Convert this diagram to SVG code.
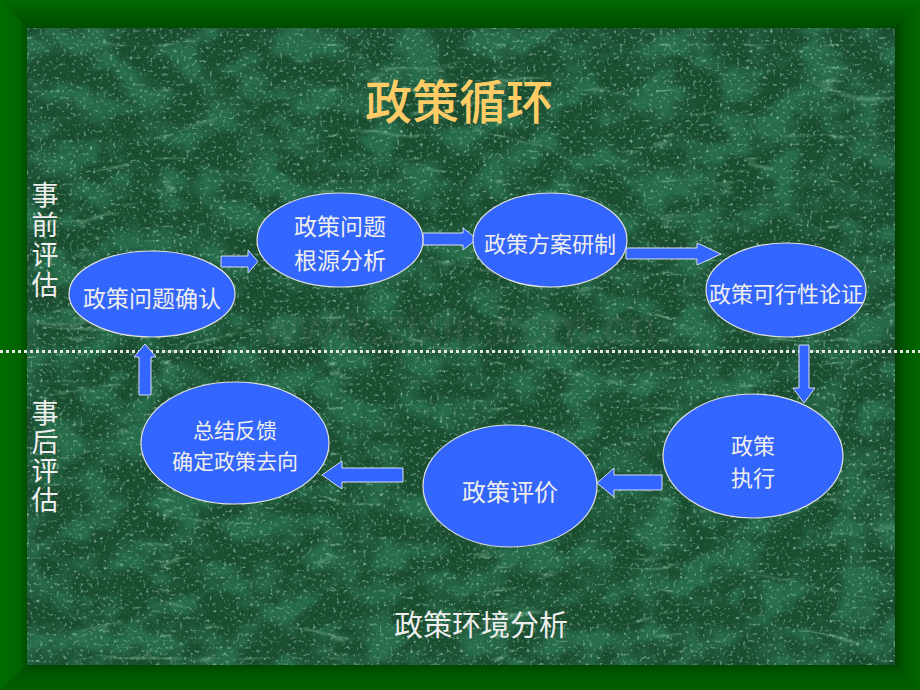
<svg xmlns="http://www.w3.org/2000/svg" width="920" height="690" viewBox="0 0 920 690">
<defs>
<style>
.node ellipse{fill:#3366FF;stroke:#e0e0e0;stroke-width:1.2}
.node text{fill:#eeeeee;font-family:"Noto Sans CJK SC","Noto Sans",sans-serif;text-anchor:middle;dominant-baseline:central}
.conn polygon{fill:#3366FF;stroke:#d8dcf0;stroke-width:1}
.side{fill:#eeeeee;font-family:"Noto Sans CJK SC",sans-serif;font-size:27px;writing-mode:vertical-rl;text-anchor:middle}
</style>
<linearGradient id="gTop" x1="0" y1="0" x2="0" y2="1"><stop offset="0" stop-color="#006a00"/><stop offset="1" stop-color="#004c00"/></linearGradient>
<linearGradient id="gLeft" x1="0" y1="0" x2="1" y2="0"><stop offset="0" stop-color="#006c00"/><stop offset="0.7" stop-color="#006400"/><stop offset="1" stop-color="#004e00"/></linearGradient>
<linearGradient id="gRight" x1="0" y1="0" x2="1" y2="0"><stop offset="0" stop-color="#003f00"/><stop offset="0.4" stop-color="#005a00"/><stop offset="1" stop-color="#006600"/></linearGradient>
<linearGradient id="gBot" x1="0" y1="0" x2="0" y2="1"><stop offset="0" stop-color="#004800"/><stop offset="0.4" stop-color="#005800"/><stop offset="1" stop-color="#005e00"/></linearGradient>
<filter id="veins" x="0" y="0" width="100%" height="100%">
<feTurbulence type="turbulence" baseFrequency="0.006 0.022" numOctaves="4" seed="11"/>
<feColorMatrix type="matrix" values="0 0 0 0 0.33  0 0 0 0 0.66  0 0 0 0 0.46  -4 0 0 0 0.45"/>
</filter>
<filter id="blotch" x="0" y="0" width="100%" height="100%">
<feTurbulence type="fractalNoise" baseFrequency="0.025 0.035" numOctaves="3" seed="2"/>
<feColorMatrix type="matrix" values="0 0 0 0 0.02  0 0 0 0 0.15  0 0 0 0 0.07  3.5 0 0 0 -1.4"/>
</filter>
<filter id="speck" x="0" y="0" width="100%" height="100%">
<feTurbulence type="fractalNoise" baseFrequency="0.3" numOctaves="2" seed="5"/>
<feColorMatrix type="matrix" values="0 0 0 0 0.28  0 0 0 0 0.52  0 0 0 0 0.38  3 0 0 0 -1.75"/>
</filter>
</defs>

<g id="frame">
<rect x="0" y="0" width="920" height="690" fill="#006400"/>
<polygon points="0,0 920,0 895,28 27,28" fill="url(#gTop)"/>
<polygon points="0,0 27,28 27,665 0,690" fill="url(#gLeft)"/>
<polygon points="920,0 920,690 895,665 895,28" fill="url(#gRight)"/>
<polygon points="0,690 27,665 895,665 920,690" fill="url(#gBot)"/>
</g>

<g id="background">
<rect x="27" y="28" width="868" height="637" fill="#1b4d30"/>
<rect x="27" y="28" width="868" height="637" filter="url(#blotch)"/>
<rect x="27" y="28" width="868" height="637" filter="url(#speck)"/>
<rect x="27" y="28" width="868" height="637" filter="url(#veins)"/>
</g>

<text x="459" y="327" font-family="Liberation Sans,sans-serif" font-size="50" text-anchor="middle" dominant-baseline="central" fill="#8a8a8a" fill-opacity="0.12">www.zixin.com.cn</text>

<line x1="0" y1="351.5" x2="920" y2="351.5" stroke="#e6e6e6" stroke-width="3" stroke-dasharray="3 3"/>

<text x="459" y="98" font-family="Noto Sans CJK SC,sans-serif" font-size="47" font-weight="500" fill="#FFCC66" text-anchor="middle" dominant-baseline="central">政策循环</text>

<g id="side-labels">
<text class="side" x="45" y="241" letter-spacing="3">事前评估</text>
<text class="side" x="45" y="457" letter-spacing="2">事后评估</text>
</g>

<g id="connectors" class="conn">
<polygon points="221,256 248,256 248,250 258,261.5 248,273 248,267 221,267"/>
<polygon points="423,233 463,233 463,228 477,239 463,250 463,245 423,245"/>
<polygon points="626,248 697,248 697,243 721,254 697,265 697,259 626,259"/>
<polygon points="799,345 809,345 809,388 815,388 804,403 793,388 799,388"/>
<polygon points="662,475 614,475 614,468 597,483 614,497 614,490 662,490"/>
<polygon points="403,468 342,468 342,461 322,475 342,489 342,482 403,482"/>
<polygon points="139,395 151,395 151,357 156,357 145,344 134,357 139,357"/>
</g>

<g id="node-confirm" class="node">
<ellipse cx="152" cy="294" rx="83" ry="43"/>
<text x="152" y="297" font-size="23">政策问题确认</text>
</g>
<g id="node-root" class="node">
<ellipse cx="340" cy="240" rx="83" ry="47"/>
<text font-size="23"><tspan x="340" y="225">政策问题</tspan><tspan x="340" y="259">根源分析</tspan></text>
</g>
<g id="node-plan" class="node">
<ellipse cx="550" cy="240" rx="77" ry="47"/>
<text x="550" y="242" font-size="22">政策方案研制</text>
</g>
<g id="node-feasibility" class="node">
<ellipse cx="786" cy="290" rx="80" ry="47"/>
<text x="786" y="292" font-size="22">政策可行性论证</text>
</g>
<g id="node-execute" class="node">
<ellipse cx="753" cy="456" rx="90" ry="62"/>
<text font-size="22"><tspan x="753" y="444">政策</tspan><tspan x="753" y="476">执行</tspan></text>
</g>
<g id="node-evaluate" class="node">
<ellipse cx="510" cy="486" rx="87" ry="61"/>
<text x="510" y="490" font-size="24">政策评价</text>
</g>
<g id="node-feedback" class="node">
<ellipse cx="235" cy="443" rx="94" ry="61"/>
<text font-size="21"><tspan x="235" y="429">总结反馈</tspan><tspan x="235" y="460">确定政策去向</tspan></text>
</g>

<text x="481" y="623" font-family="Noto Sans CJK SC,sans-serif" font-size="29" fill="#eeeeee" text-anchor="middle" dominant-baseline="central">政策环境分析</text>
</svg>
